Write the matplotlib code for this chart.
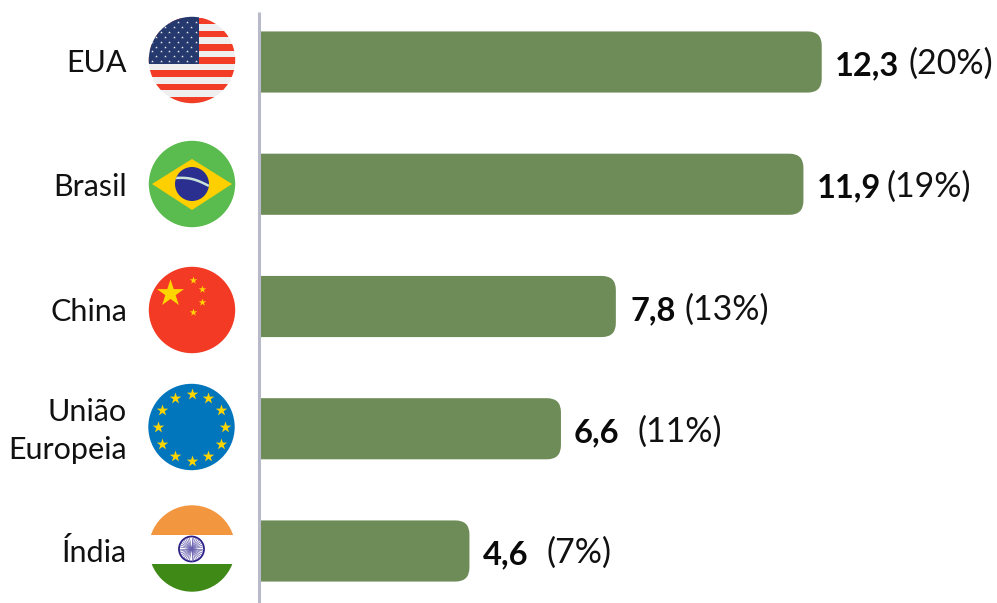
import numpy as np
import matplotlib
matplotlib.use('Agg')
import matplotlib.pyplot as plt
from matplotlib.path import Path
from matplotlib.patches import PathPatch, Circle, Rectangle, Polygon

categories = ['EUA', 'Brasil', 'China', 'União\nEuropeia', 'Índia']
values = [12.3, 11.9, 7.8, 6.6, 4.6]
value_labels = ['12,3', '11,9', '7,8', '6,6', '4,6']
pct_labels = ['(20%)', '(19%)', '(13%)', '(11%)', '(7%)']

W, H = 997, 603
BAR = '#6e8c58'
FONT = 'Lato'

plt.rcParams['font.family'] = [FONT, 'DejaVu Sans']
fig = plt.figure(figsize=(W / 100, H / 100), dpi=100)

# main axes: x in value units, y in category units, lined up with the pixels
px_per_unit = 45.75
x0_px = 259
row_px = 122.25
ax = fig.add_axes([0, 0, 1, 1])
ax.set_xlim(-x0_px / px_per_unit, (W - x0_px) / px_per_unit)
ax.set_ylim((H - 62) / row_px, -62 / row_px)
ax.axis('off')


def round_bar(val, y, h=0.5, r_px=14):
    # bar with only the right corners rounded
    rx, ry = r_px / px_per_unit, r_px / row_px
    t, b = y - h / 2, y + h / 2
    verts = [(0, t), (val - rx, t), (val, t), (val, t + ry), (val, b - ry),
             (val, b), (val - rx, b), (0, b), (0, t)]
    codes = [Path.MOVETO, Path.LINETO, Path.CURVE3, Path.CURVE3, Path.LINETO,
             Path.CURVE3, Path.CURVE3, Path.LINETO, Path.CLOSEPOLY]
    return PathPatch(Path(verts, codes), fc=BAR, ec='none')


for i, v in enumerate(values):
    ax.add_patch(round_bar(v, i))

# overlay in pixels for labels and flags
ov = fig.add_axes([0, 0, 1, 1], zorder=2)
ov.set_xlim(0, W)
ov.set_ylim(H, 0)
ov.axis('off')
ov.patch.set_alpha(0)

ov.plot([258.5, 258.5], [12, H], color='#b8b9c9', lw=2.2, solid_capstyle='butt')

label_y = [63, 187, 312, 431, 553]
value_x = [835, 817, 630, 574, 483]
pct_x = [908, 886, 684, 637, 546]
value_y = [66, 188, 311, 433, 555]
pct_y = [64, 187, 310, 432, 553]
for i in range(5):
    ov.text(127, label_y[i], categories[i], ha='right', va='center',
            fontsize=22, color='#111111', linespacing=1.45)
    ov.text(value_x[i], value_y[i], value_labels[i], ha='left', va='center',
            fontsize=23.5, fontweight='bold', color='#0a0a0a')
    ov.text(pct_x[i], pct_y[i], pct_labels[i], ha='left', va='center',
            fontsize=24.5, color='#111111')


def disc(cx, cy, color, r=43.2):
    c = Circle((cx, cy), r, fc=color, ec='none')
    ov.add_patch(c)
    return c


def clipped(patch, clip):
    ov.add_patch(patch)
    patch.set_clip_path(clip)
    return patch


# USA
c = disc(192, 60, '#efefef')
for k in range(0, 13, 2):
    clipped(Rectangle((140, 17.5 + k * 6.62), 110, 6.62, fc='#f33c26', ec='none'), c)
clipped(Rectangle((140, 10), 58.5, 53.5, fc='#25396f', ec='none'), c)
sx, sy = [], []
for row in range(9):
    for col in range(6):
        x = 152 + col * 8.7 + (4.3 if row % 2 else 0)
        if x < 196:
            sx.append(x)
            sy.append(22 + row * 4.9)
pts = ov.scatter(sx, sy, s=4, marker='*', color='#efefef', lw=0)
pts.set_clip_path(c)

# Brazil
c = disc(192, 184, '#5abb4f')
ov.add_patch(Polygon([(152, 184), (192, 159), (232, 184), (192, 210)], fc='#ffcf00', ec='none'))
globe = Circle((192, 184), 17, fc='#2b2f8f', ec='none')
ov.add_patch(globe)
th = np.linspace(0, 1, 30)
ov.plot(175 + th * 34, 178 - 3 * np.sin(th * np.pi) + th * 8, color='#c9e3d8', lw=1.8,
        solid_capstyle='butt')[0].set_clip_path(globe)

# China
c = disc(192, 310, '#f23a24')
ov.scatter([170], [293], s=420, marker='*', color='#ffd500', lw=0)
ov.scatter([193, 202, 202, 193], [280, 289, 302, 312], s=32, marker='*', color='#ffd500', lw=0)

# EU
c = disc(191.5, 427, '#0276bc')
ang = np.deg2rad(np.arange(0, 360, 30))
ov.scatter(191.5 + 33.5 * np.sin(ang), 427 - 33.5 * np.cos(ang), s=75, marker='*',
           color='#ffd500', lw=0)

# India
c = disc(192, 548.5, '#ffffff')
clipped(Rectangle((140, 500), 110, 35, fc='#f39640', ec='none'), c)
clipped(Rectangle((140, 564), 110, 35, fc='#3f8a16', ec='none'), c)
ov.add_patch(Circle((191.5, 549), 12.5, fc='white', ec='#2a1f86', lw=1.3))
for a in np.deg2rad(np.arange(0, 360, 10)):
    ov.plot([191.5, 191.5 + 11.5 * np.cos(a)], [549, 549 + 11.5 * np.sin(a)],
            color='#6a62b0', lw=0.5)
ov.add_patch(Circle((191.5, 549), 1.6, fc='#2a1f86', ec='none'))

fig.savefig('out.png', dpi=100)
